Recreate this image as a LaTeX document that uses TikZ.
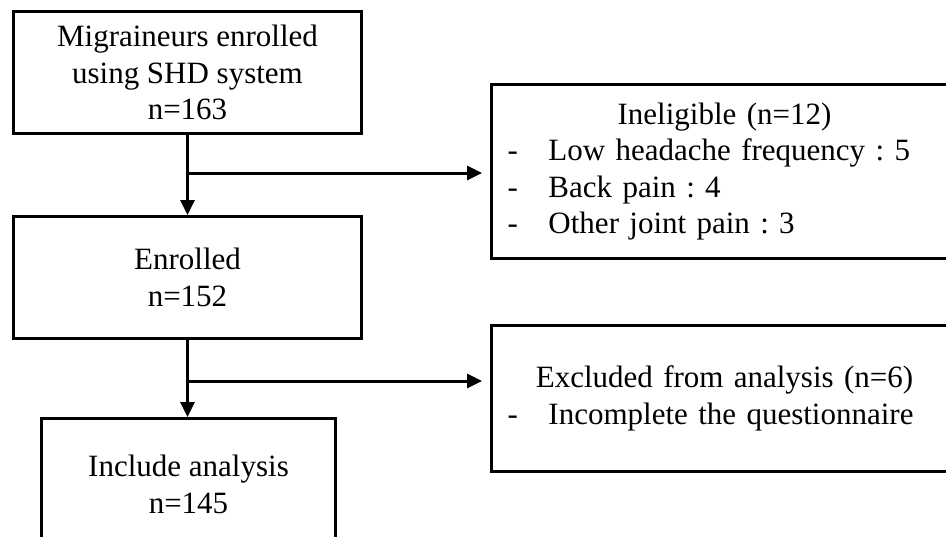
\documentclass[tikz,border=0pt]{standalone}
\usepackage{fontspec}
\setmainfont{Liberation Serif}
\usetikzlibrary{arrows.meta,calc}
\frenchspacing

\begin{document}
\begin{tikzpicture}
  [x=1pt,y=-1pt,
   every node/.style={font=\fontsize{31}{36.5}\selectfont},
   box/.style={draw,line width=3pt,rectangle,inner sep=0pt,anchor=north west,align=center},
   listbox/.style={box,align=left,inner xsep=16pt,inner ysep=0pt},
   arr/.style={line width=3pt,-{Triangle[length=15pt,width=14pt]}}]
  \clip (0,0) rectangle (946,536);
  \fill[white] (0,0) rectangle (946,536);

  \node[box,minimum width=348pt,minimum height=122pt] (b1) at (12,10)
    {Migraineurs enrolled\\using SHD system\\n=163};
  \node[box,minimum width=348pt,minimum height=122pt] (b2) at (12,215)
    {Enrolled\\n=152};
  \node[box,minimum width=294pt,minimum height=132pt] (b3) at (40,417)
    {Include analysis\\n=145};

  \node[listbox,text width=434pt,minimum height=174pt] (inel) at (490,83)
    {\makebox[\linewidth]{Ineligible (n=12)}\\
     \makebox[41pt][l]{-}Low headache frequency : 5\\
     \makebox[41pt][l]{-}Back pain : 4\\
     \makebox[41pt][l]{-}Other joint pain : 3};
  \node[listbox,text width=434pt,minimum height=146pt] (excl) at (490,324)
    {\makebox[\linewidth]{Excluded from analysis (n=6)}\\
     \makebox[41pt][l]{-}Incomplete the questionnaire};

  \coordinate (s1) at ($(b1.south)+(0,38)$);
  \coordinate (s2) at ($(b2.south)+(0,41)$);

  \draw[arr] (b1.south) -- (b2.north);
  \draw[arr] (b2.south) -- (b2.south |- b3.north);
  \draw[arr,shorten >=8pt] (s1) -- (s1 -| inel.west);
  \draw[arr,shorten >=8pt] (s2) -- (s2 -| excl.west);

\end{tikzpicture}
\end{document}
